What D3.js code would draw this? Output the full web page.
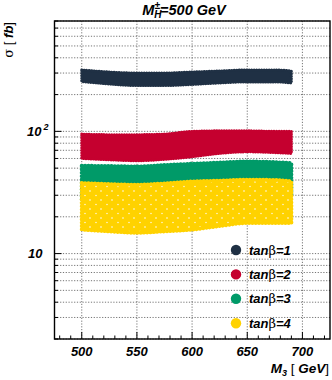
<!DOCTYPE html>
<html>
<head>
<meta charset="utf-8">
<script src="https://cdn.jsdelivr.net/npm/d3@7"></script>
<style>
  body { margin: 0; background: #fff; }
  text { font-family: "Liberation Sans", Arial, sans-serif; }
</style>
</head>
<body>
<div id="chart"></div>
<script>
// values (M3 in GeV, sigma in fb)
const m3 = [500, 525, 550, 575, 600, 625, 650, 675, 690];
const tb1Hi = [318, 306, 300, 300, 306, 312, 318, 318, 312];
const tb1Lo = [256, 244, 237, 237, 242, 249, 254, 254, 249];
const tb2Hi = [95, 94, 94, 95, 100, 101, 101, 100, 100];
const tb2Lo = [60, 58.5, 57.5, 59, 62, 66, 68, 67, 66];
const tb3Hi = [52.3, 52, 51.6, 53, 54.3, 55.5, 56.7, 56, 55];
const tb3Lo = [27.6, 27.5, 27.5, 28, 29, 29.5, 30.3, 30, 30];
const tb4Hi = [37.8, 37, 36.6, 37.5, 38.9, 39.5, 40.2, 40, 39];
const tb4Lo = [15.7, 15.2, 14.8, 15.2, 15.7, 16.8, 17.8, 17.8, 17.8];

const seriesNames = ["1", "2", "3", "4"];
const seriesColors = ["#1f3044", "#c5002f", "#009a68", "#ffd200"];
const xTicks = [500, 550, 600, 650, 700];

let width = 332,
    height = 380,
    margin = ({ top: 21, right: 2, bottom: 41, left: 54.5 });

const svg = d3.select("#chart")
  .append("svg")
  .attr("width", width)
  .attr("height", height);

let x = d3.scaleLinear()
  .domain([475.3, 725])
  .range([margin.left, width - margin.right]);

let y = d3.scaleLog()
  .domain([2, 800])
  .range([height - margin.bottom, margin.top]);

// texture for the sparse yellow points
let defs = svg.append("defs");
let pat = defs.append("pattern")
  .attr("id", "speck")
  .attr("patternUnits", "userSpaceOnUse")
  .attr("width", 11).attr("height", 9);
pat.append("rect").attr("width", 11).attr("height", 9).attr("fill", seriesColors[3]);
pat.append("circle").attr("cx", 2).attr("cy", 2).attr("r", 0.8).attr("fill", "#fff");
pat.append("circle").attr("cx", 8).attr("cy", 6.5).attr("r", 0.7).attr("fill", "#fff");

// grid
let yMinor = [];
for (let dec of [1, 10, 100]) {
  for (let k = 1; k <= 9; k++) {
    let v = k * dec;
    if (v >= 2 && v <= 800) yMinor.push(v);
  }
}
let xMinor = d3.range(480, 721, 10);

svg.append("g")
  .selectAll("line")
  .data(yMinor)
  .join("line")
  .attr("x1", margin.left).attr("x2", width - margin.right)
  .attr("y1", d => y(d)).attr("y2", d => y(d))
  .attr("stroke", "#666")
  .attr("stroke-width", 0.9)
  .attr("stroke-dasharray", "1.2,1.6");

svg.append("g")
  .selectAll("line")
  .data(xTicks)
  .join("line")
  .attr("x1", d => x(d)).attr("x2", d => x(d))
  .attr("y1", margin.top).attr("y2", height - margin.bottom)
  .attr("stroke", "#666")
  .attr("stroke-width", 0.9)
  .attr("stroke-dasharray", "1.2,1.6");

// bands
let bands = [
  { hi: tb1Hi, lo: tb1Lo },
  { hi: tb2Hi, lo: tb2Lo },
  { hi: tb3Hi, lo: tb3Lo },
  { hi: tb4Hi, lo: tb4Lo }
];

let area = d3.area()
  .curve(d3.curveMonotoneX)
  .x(d => x(d.m))
  .y0(d => y(d.lo))
  .y1(d => y(d.hi));

bands.forEach((b, i) => {
  let pts = m3.map((m, j) => ({ m: m, hi: b.hi[j], lo: b.lo[j] }));
  svg.append("path")
    .datum(pts)
    .attr("d", area)
    .attr("fill", i === 3 ? "url(#speck)" : seriesColors[i])
    .attr("stroke", seriesColors[i])
    .attr("stroke-width", i >= 2 ? 4 : 3)
    .attr("stroke-linecap", "round")
    .attr("stroke-linejoin", "round")
    .attr("stroke-dasharray", i >= 2 ? "0.1,3.2" : "0.1,2.4");
});

// frame
svg.append("rect")
  .attr("x", margin.left).attr("y", margin.top)
  .attr("width", width - margin.right - margin.left)
  .attr("height", height - margin.bottom - margin.top)
  .attr("fill", "none")
  .attr("stroke", "#000")
  .attr("stroke-width", 1.4);

// ticks inside the frame
let yb = height - margin.bottom;
svg.append("g")
  .selectAll("line")
  .data(xMinor)
  .join("line")
  .attr("x1", d => x(d)).attr("x2", d => x(d))
  .attr("y1", yb).attr("y2", d => d % 50 === 0 ? yb - 7 : yb - 3.5)
  .attr("stroke", "#000");

svg.append("g")
  .selectAll("line")
  .data(yMinor)
  .join("line")
  .attr("x1", margin.left).attr("x2", d => (d === 10 || d === 100) ? margin.left + 7 : margin.left + 3.5)
  .attr("y1", d => y(d)).attr("y2", d => y(d))
  .attr("stroke", "#000");

// tick labels
svg.append("g")
  .selectAll("text")
  .data(xTicks)
  .join("text")
  .attr("x", d => x(d))
  .attr("y", 356)
  .attr("text-anchor", "middle")
  .attr("font-size", 13)
  .attr("font-weight", "bold")
  .attr("font-style", "italic")
  .text(d => d);

let t100 = svg.append("text")
  .attr("x", 27).attr("y", y(100) + 4.5)
  .attr("font-size", 13).attr("font-weight", "bold").attr("font-style", "italic");
t100.append("tspan").text("10");
t100.append("tspan").attr("dx", 2).attr("dy", -6).attr("font-size", 9).text("2");

svg.append("text")
  .attr("x", 28).attr("y", y(10) + 4.5)
  .attr("font-size", 13).attr("font-weight", "bold").attr("font-style", "italic")
  .text("10");

// title
let title = svg.append("text")
  .attr("x", 184).attr("y", 15)
  .attr("text-anchor", "middle")
  .attr("font-size", 14.5).attr("font-weight", "bold").attr("font-style", "italic");
title.append("tspan").text("M");
title.append("tspan").attr("font-size", 10).attr("dy", 3).text("H");
title.append("tspan").attr("font-size", 10).attr("dx", -7).attr("dy", -9.5).text("±");
title.append("tspan").attr("dy", 6.5).text("=500 GeV");

// axis titles
let xl = svg.append("text")
  .attr("x", 329).attr("y", 373)
  .attr("text-anchor", "end")
  .attr("font-size", 13.5).attr("font-weight", "bold").attr("font-style", "italic");
xl.append("tspan").text("M");
xl.append("tspan").attr("font-size", 9).attr("dy", 3).text("3");
xl.append("tspan").attr("dy", -3).attr("font-weight", "normal").attr("font-style", "normal").text(" [ ");
xl.append("tspan").text("GeV");
xl.append("tspan").attr("font-weight", "normal").attr("font-style", "normal").text("]");

let yl = svg.append("text")
  .attr("transform", "translate(13,22) rotate(-90)")
  .attr("text-anchor", "end")
  .attr("font-size", 13);
yl.append("tspan").attr("font-family", "DejaVu Serif, serif").text("σ");
yl.append("tspan").text(" [ ");
yl.append("tspan").attr("font-weight", "bold").attr("font-style", "italic").text("fb");
yl.append("tspan").text("]");

// legend
let legend = svg.append("g");
seriesNames.forEach((n, i) => {
  let ly = 250 + i * 24.4;
  legend.append("circle")
    .attr("cx", 236).attr("cy", ly).attr("r", 5.2)
    .attr("fill", seriesColors[i]);
  let t = legend.append("text")
    .attr("x", 249).attr("y", ly + 4.5)
    .attr("font-size", 13).attr("font-weight", "bold").attr("font-style", "italic");
  t.append("tspan").text("tan");
  t.append("tspan").attr("font-family", "DejaVu Serif, serif").attr("font-weight", "normal").attr("font-style", "normal").text("β");
  t.append("tspan").text("=" + n);
});
</script>
</body>
</html>
